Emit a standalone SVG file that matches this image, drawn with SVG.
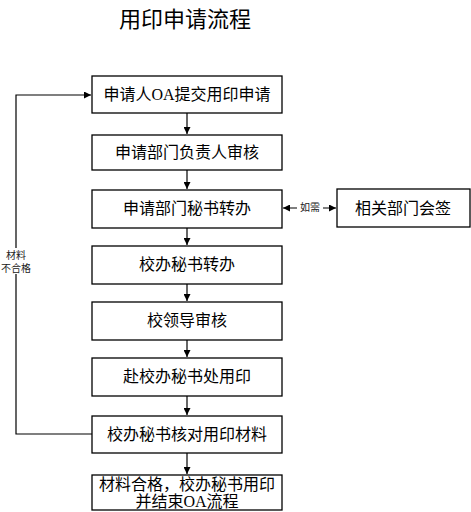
<svg xmlns="http://www.w3.org/2000/svg" width="471" height="512" viewBox="0 0 471 512">
<style>
.box{fill:#fff;stroke:#000;stroke-width:1.3}
.t{font-family:"Liberation Serif","Noto Sans CJK SC",serif;font-size:16px;fill:#000;text-anchor:middle}
.s{font-family:"Liberation Serif","Noto Sans CJK SC",serif;font-size:10px;fill:#222;text-anchor:middle}
.ln{fill:none;stroke:#000;stroke-width:1.2}
</style>
<defs>
<marker id="ah" viewBox="0 0 10 10" refX="10" refY="5" markerWidth="7" markerHeight="7" markerUnits="userSpaceOnUse" orient="auto-start-reverse">
<path d="M0,0 L10,5 L0,10 z" fill="#000"/>
</marker>
</defs>
<rect width="471" height="512" fill="#fff"/>
<text x="185" y="27" font-family="'Noto Sans CJK SC',sans-serif" font-size="22" text-anchor="middle" fill="#000">用印申请流程</text>
<g id="connectors">
<line class="ln" x1="187" y1="113" x2="187" y2="134" marker-end="url(#ah)"/>
<line class="ln" x1="187" y1="170" x2="187" y2="189" marker-end="url(#ah)"/>
<line class="ln" x1="187" y1="228" x2="187" y2="245" marker-end="url(#ah)"/>
<line class="ln" x1="187" y1="284" x2="187" y2="301" marker-end="url(#ah)"/>
<line class="ln" x1="187" y1="340" x2="187" y2="357" marker-end="url(#ah)"/>
<line class="ln" x1="187" y1="396" x2="187" y2="415" marker-end="url(#ah)"/>
<line class="ln" x1="187" y1="453" x2="187" y2="474" marker-end="url(#ah)"/>
<line class="ln" x1="283" y1="208" x2="336" y2="208" marker-start="url(#ah)" marker-end="url(#ah)"/>
<rect x="297" y="201" width="26" height="13" fill="#fff"/>
<text class="s" x="310" y="211">如需</text>
<polyline class="ln" points="92,434 16,434 16,95 91,95" marker-end="url(#ah)"/>
<rect x="4" y="248" width="26" height="26" fill="#fff"/>
<text class="s" x="16" y="259">材料</text>
<text class="s" x="16" y="272">不合格</text>
</g>
<g id="n1"><rect class="box" x="92" y="76" width="190" height="37"/><text class="t" x="187" y="100">申请人OA提交用印申请</text></g>
<g id="n2"><rect class="box" x="92" y="135" width="190" height="35"/><text class="t" x="187" y="158">申请部门负责人审核</text></g>
<g id="n3"><rect class="box" x="92" y="190" width="190" height="38"/><text class="t" x="187" y="214">申请部门秘书转办</text></g>
<g id="n4"><rect class="box" x="92" y="246" width="190" height="38"/><text class="t" x="187" y="270">校办秘书转办</text></g>
<g id="n5"><rect class="box" x="92" y="302" width="190" height="38"/><text class="t" x="187" y="326">校领导审核</text></g>
<g id="n6"><rect class="box" x="92" y="358" width="190" height="38"/><text class="t" x="187" y="382">赴校办秘书处用印</text></g>
<g id="n7"><rect class="box" x="92" y="416" width="190" height="37"/><text class="t" x="187" y="440">校办秘书核对用印材料</text></g>
<g id="n8"><rect class="box" x="92" y="475" width="190" height="35"/><text class="t" x="187" y="490">材料合格，校办秘书用印</text><text class="t" x="187" y="507">并结束OA流程</text></g>
<g id="n9"><rect class="box" x="337" y="189" width="133" height="38"/><text class="t" x="403" y="214">相关部门会签</text></g>
</svg>
